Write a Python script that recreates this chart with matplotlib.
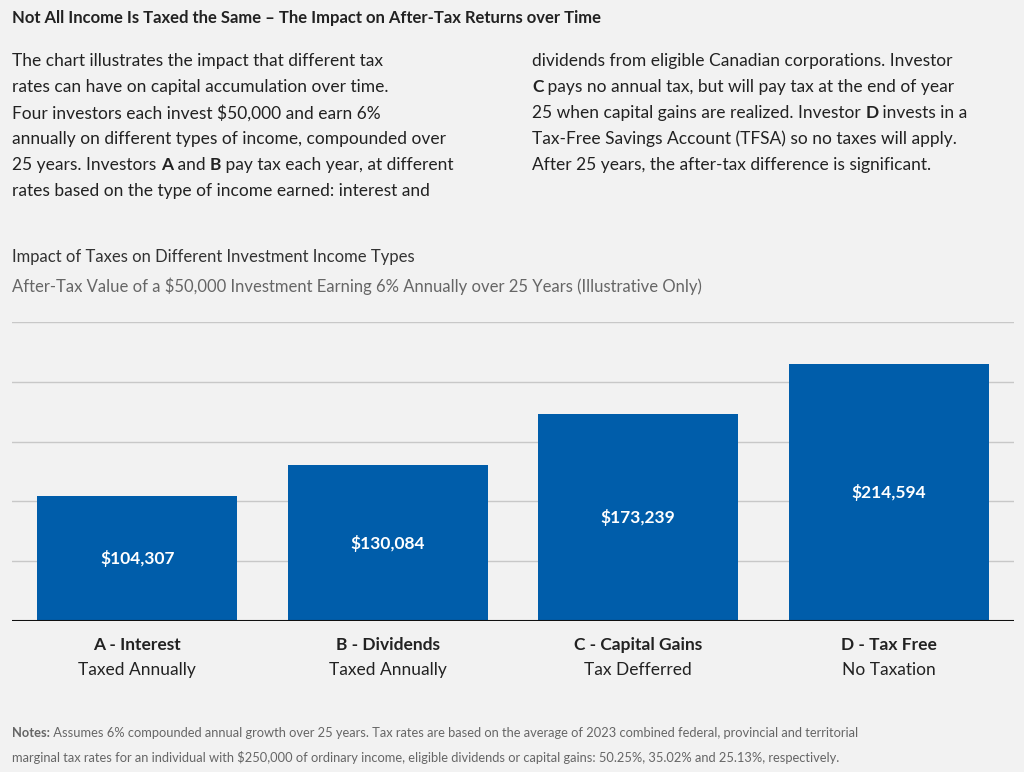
import matplotlib.pyplot as plt

categories = ["A - Interest", "B - Dividends", "C - Capital Gains", "D - Tax Free"]
subtitles = ["Taxed Annually", "Taxed Annually", "Tax Defferred", "No Taxation"]
values = [104307, 130084, 173239, 214594]

BG = "#f2f2f2"
TXT = "#222222"
BLUE = "#005daa"
plt.rcParams['font.family'] = ['Lato', 'DejaVu Sans']

fig = plt.figure(figsize=(10.24, 7.72), dpi=100, facecolor=BG)
W, H = 1024, 772


def runs(x, y, parts, size, color=TXT):
    # draw text runs left to right, (text, bold) pairs, pixel coords from top-left
    fig.canvas.draw()
    r = fig.canvas.get_renderer()
    for s, bold in parts:
        t = fig.text(x / W, 1 - y / H, s, fontsize=size, color=color, va="center",
                     fontweight="bold" if bold else "normal")
        x += t.get_window_extent(r).width


fig.text(12 / W, 1 - 18 / H, "Not All Income Is Taxed the Same \u2013 The Impact on After-Tax Returns over Time",
         fontsize=12, fontweight="bold", color=TXT, va="center")

left = [
    [("The chart illustrates the impact that different tax", False)],
    [("rates can have on capital accumulation over time.", False)],
    [("Four investors each invest $50,000 and earn 6%", False)],
    [("annually on different types of income, compounded over", False)],
    [("25 years. Investors ", False), ("A", True), (" and ", False), ("B", True), (" pay tax each year, at different", False)],
    [("rates based on the type of income earned: interest and", False)],
]
right = [
    [("dividends from eligible Canadian corporations. Investor", False)],
    [("C", True), (" pays no annual tax, but will pay tax at the end of year", False)],
    [("25 when capital gains are realized. Investor ", False), ("D", True), (" invests in a", False)],
    [("Tax-Free Savings Account (TFSA) so no taxes will apply.", False)],
    [("After 25 years, the after-tax difference is significant.", False)],
]
for i, line in enumerate(left):
    runs(12, 61 + 26 * i, line, 12.5)
for i, line in enumerate(right):
    runs(532, 61 + 26 * i, line, 12.5)

fig.text(12 / W, 1 - 257 / H, "Impact of Taxes on Different Investment Income Types",
         fontsize=12, color="#333333", va="center")
fig.text(12 / W, 1 - 286 / H, "After-Tax Value of a $50,000 Investment Earning 6% Annually over 25 Years (Illustrative Only)",
         fontsize=12, color="#666666", va="center")

ax = fig.add_axes([12 / W, 1 - 621 / H, 1002 / W, 299 / H])
ax.set_facecolor(BG)
x = range(len(values))
ax.bar(x, values, width=0.8, color=BLUE, zorder=3)
ax.set_xlim(-0.5, len(values) - 0.5)
ax.set_ylim(0, 250000)
ax.set_yticks(range(0, 250001, 50000))
ax.grid(axis="y", color="#c8c8c8", linewidth=1, zorder=0)
for s in ax.spines.values():
    s.set_visible(False)
ax.axhline(0, color="#111111", linewidth=1.5, zorder=4)
ax.tick_params(left=False, bottom=False, labelleft=False, labelbottom=False)
for i, v in enumerate(values):
    ax.text(i, v / 2, f"${v:,}", ha="center", va="center", color="white",
            fontsize=12.5, fontweight="bold", zorder=5)
    ax.text(i, -0.08, categories[i], transform=ax.get_xaxis_transform(),
            ha="center", va="center", fontsize=12.5, fontweight="bold", color=TXT)
    ax.text(i, -0.165, subtitles[i], transform=ax.get_xaxis_transform(),
            ha="center", va="center", fontsize=12.5, color=TXT)

runs(12, 733, [("Notes:", True), (" Assumes 6% compounded annual growth over 25 years. Tax rates are based on the average of 2023 combined federal, provincial and territorial", False)], 9.3, "#666666")
runs(12, 757, [("marginal tax rates for an individual with $250,000 of ordinary income, eligible dividends or capital gains: 50.25%, 35.02% and 25.13%, respectively.", False)], 9.3, "#666666")

fig.savefig("out.png", dpi=100, facecolor=BG)
